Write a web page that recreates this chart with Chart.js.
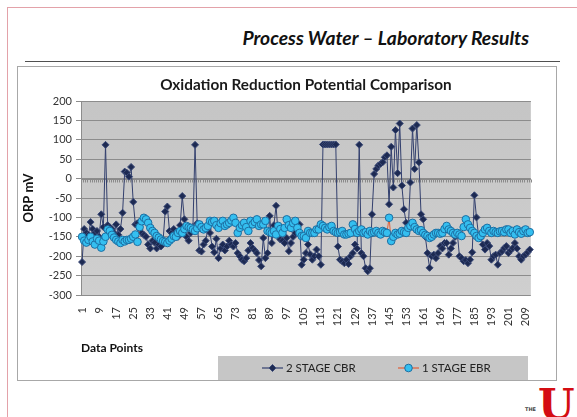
<!DOCTYPE html>
<html><head><meta charset="utf-8">
<script src="https://cdn.jsdelivr.net/npm/chart.js@4"></script>
<style>
html,body{margin:0;padding:0;background:#fff;width:577px;height:417px;overflow:hidden;font-family:Lato,"Open Sans",sans-serif}
#frameTop{position:absolute;left:7px;top:7px;width:570px;height:1px;background:#e3a2a9}
#frameLeft{position:absolute;left:7px;top:7px;width:1px;height:410px;background:#e3a2a9}
#title{position:absolute;right:48px;top:26px;font:italic 700 19.3px Lato,sans-serif;color:#111;white-space:nowrap}
#rule{position:absolute;left:25px;top:61px;width:535px;height:1px;background:#505050}
#box{position:absolute;left:17px;top:66px;width:540px;height:315px;border:1px solid #a8a8a8;box-sizing:border-box;background:#fff}
#chart{position:absolute;left:17px;top:66px}
#logo{position:absolute;left:520px;top:383px;width:57px;height:34px;overflow:hidden}
#logo .the{position:absolute;left:5px;top:23px;font:700 5px "DejaVu Sans",sans-serif;color:#444}
#logo .u{position:absolute;left:18px;top:1px;font:900 42px "DejaVu Serif",serif;color:#d40d12;line-height:1}
</style></head>
<body>
<div id="frameTop"></div><div id="frameLeft"></div>
<div id="title">Process Water – Laboratory Results</div>
<div id="rule"></div>
<div id="box"></div>
<canvas id="chart" width="538" height="315"></canvas>
<div id="logo"><span class="the">THE</span><span class="u">U</span></div>
<script>
const chartTitle = 'Oxidation Reduction Potential Comparison';
const seriesNames = ['2 STAGE CBR', '1 STAGE EBR'];
const xTickLabels = ['1','9','17','25','33','41','49','57','65','73','81','89','97','105','113','121','129','137','145','153','161','169','177','185','193','201','209'];
const yMin = -300, yMax = 200, yStep = 50;

const cbrValues = [
 -215,-130,-140,-145,-112,-130,-140,-135,-150,-92,
 -125,87,-120,-125,-130,-140,-118,-145,-130,-88,
 18,15,5,30,-60,-118,-115,-130,-140,-145,
 -150,-170,-180,-160,-165,-180,-170,-175,-160,-85,
 -72,-135,-140,-130,-140,-150,-120,-45,-105,-150,
 -160,-140,-125,87,-115,-185,-188,-170,-160,-130,
 -140,-175,-190,-155,-205,-180,-170,-185,-175,-160,
 -170,-175,-166,-192,-200,-209,-213,-205,-185,-166,
 -179,-185,-192,-210,-226,-153,-205,-192,-96,-166,
 -120,-70,-148,-157,-160,-166,-153,-187,-166,-150,
 -140,-130,-118,-222,-209,-192,-170,-195,-209,-200,
 -183,-200,-222,88,88,88,88,88,88,88,
 -175,-209,-213,-218,-209,-220,-200,-192,-170,-180,
 87,-192,-200,-231,-239,-231,-92,12,25,34,
 38,42,55,60,-66,82,-23,125,14,142,
 -18,-79,-114,-131,-10,129,25,138,42,-92,
 -105,-150,-192,-230,-200,-196,-205,-192,-174,-180,
 -166,-166,-196,-180,-166,-150,-140,-200,-205,-213,
 -210,-218,-209,-190,-43,-100,-148,-153,-170,-183,
 -166,-174,-209,-200,-196,-222,-192,-187,-179,-174,
 -192,-185,-179,-166,-180,-200,-209,-200,-196,-190,-183
];
const ebrValues = [
 -150,-160,-165,-158,-150,-162,-170,-155,-160,-178,
 -162,-150,-131,-135,-145,-152,-158,-162,-166,-158,
 -162,-158,-158,-155,-150,-144,-163,-125,-110,-101,
 -105,-114,-127,-135,-140,-148,-152,-157,-161,-163,
 -166,-160,-155,-148,-150,-140,-135,-140,-130,-122,
 -125,-127,-131,-135,-128,-118,-125,-131,-127,-122,
 -109,-112,-109,-120,-127,-115,-109,-122,-118,-114,
 -108,-101,-114,-140,-127,-120,-114,-125,-135,-109,
 -118,-112,-105,-122,-118,-118,-109,-135,-138,-140,
 -135,-144,-122,-130,-140,-127,-105,-120,-127,-115,
 -109,-127,-140,-148,-148,-153,-135,-140,-140,-140,
 -131,-131,-118,-122,-127,-131,-125,-122,-135,-138,
 -140,-138,-135,-144,-144,-142,-140,-118,-130,-140,
 -135,-131,-140,-138,-144,-135,-140,-138,-135,-140,
 -144,-135,-138,-140,-101,-161,-150,-140,-144,-142,
 -135,-138,-140,-127,-122,-114,-125,-131,-135,-133,
 -140,-145,-148,-153,-150,-144,-140,-140,-142,-140,
 -130,-122,-131,-135,-140,-144,-140,-144,-148,-125,
 -105,-118,-127,-135,-140,-148,-153,-148,-140,-131,
 -127,-135,-140,-135,-138,-140,-136,-135,-138,-131,
 -131,-140,-135,-144,-131,-138,-142,-135,-131,-140,-138
];
const categories = cbrValues.map((_, i) => String(i + 1));

const FONT = 'Lato, "Open Sans", sans-serif';

const plotBg = {
  id: 'plotBg',
  beforeDraw(chart) {
    const {ctx, chartArea: a} = chart;
    const g = ctx.createLinearGradient(0, a.top, 0, a.bottom);
    g.addColorStop(0, '#c5c5c5');
    g.addColorStop(1, '#cfcfcf');
    ctx.save();
    ctx.fillStyle = g;
    ctx.fillRect(a.left, a.top, a.right - a.left, a.bottom - a.top);
    ctx.restore();
  }
};

const zeroAxis = {
  id: 'zeroAxis',
  beforeDatasetsDraw(chart) {
    const {ctx, chartArea: a, scales} = chart;
    const y0 = Math.round(scales.y.getPixelForValue(0)) + 0.5;
    ctx.save();
    ctx.strokeStyle = '#8a8a8a';
    ctx.lineWidth = 1;
    ctx.beginPath();
    ctx.moveTo(a.left, y0); ctx.lineTo(a.right, y0);
    const n = categories.length;
    const w = (a.right - a.left) / n;
    for (let i = 0; i <= n; i++) {
      const x = Math.round(a.left + i * w) + 0.5;
      ctx.moveTo(x, y0); ctx.lineTo(x, y0 + 3);
    }
    ctx.stroke();
    ctx.restore();
  }
};

function drawMarker(ctx, style, x, y, r, fill, stroke) {
  ctx.beginPath();
  if (style === 'rectRot') {
    ctx.moveTo(x, y - r); ctx.lineTo(x + r, y); ctx.lineTo(x, y + r); ctx.lineTo(x - r, y); ctx.closePath();
  } else {
    ctx.arc(x, y, r, 0, Math.PI * 2);
  }
  ctx.fillStyle = fill; ctx.fill();
  ctx.strokeStyle = stroke; ctx.lineWidth = 1; ctx.stroke();
}

const titleLegend = {
  id: 'titleLegend',
  afterDraw(chart) {
    const {ctx, chartArea: a} = chart;
    ctx.save();
    ctx.fillStyle = '#1a1a1a';
    ctx.font = 'bold 15.3px ' + FONT;
    ctx.textAlign = 'center';
    ctx.textBaseline = 'middle';
    ctx.fillText(chartTitle, (a.left + a.right) / 2, 19);
    const lx = 201, ly = 290, lw = 310, lh = 24;
    ctx.fillStyle = '#c6c6c6';
    ctx.fillRect(lx, ly, lw, lh);
    const entryX = [245, 381];
    chart.data.datasets.forEach((ds, i) => {
      const cx = entryX[i], cy = ly + lh / 2;
      ctx.strokeStyle = ds.borderColor; ctx.lineWidth = 1.2;
      ctx.beginPath(); ctx.moveTo(cx, cy); ctx.lineTo(cx + 21, cy); ctx.stroke();
      drawMarker(ctx, ds.pointStyle, cx + 10.5, cy, ds.pointRadius, ds.pointBackgroundColor, ds.pointBorderColor);
      ctx.fillStyle = '#222';
      ctx.font = '11.5px ' + FONT;
      ctx.textAlign = 'left';
      ctx.fillText(ds.label, cx + 24, cy + 0.5);
    });
    ctx.restore();
  }
};

new Chart(document.getElementById('chart'), {
  type: 'line',
  data: {
    labels: categories,
    datasets: [
      {
        label: seriesNames[0], data: cbrValues, order: 1,
        borderColor: '#33406e', borderWidth: 1, tension: 0,
        pointStyle: 'rectRot', pointRadius: 3.5,
        pointBackgroundColor: '#1d2a52', pointBorderColor: '#3b4a78', pointBorderWidth: 1
      },
      {
        label: seriesNames[1], data: ebrValues, order: 0,
        borderColor: '#e0603a', borderWidth: 1, tension: 0,
        pointStyle: 'circle', pointRadius: 3.8,
        pointBackgroundColor: '#34bff0', pointBorderColor: '#1d6fa3', pointBorderWidth: 1
      }
    ]
  },
  options: {
    responsive: false,
    animation: false,
    events: [],
    layout: {padding: {top: 35, right: 8, left: 0, bottom: 26}},
    plugins: {legend: {display: false}, title: {display: false}, tooltip: {enabled: false}},
    scales: {
      x: {
        type: 'category', offset: true,
        grid: {display: false, drawTicks: false},
        border: {display: false},
        ticks: {
          autoSkip: false, maxRotation: 90, minRotation: 90, padding: 12,
          font: {size: 11, family: FONT}, color: '#333',
          callback: function (v) { const l = this.getLabelForValue(v); return xTickLabels.includes(l) ? l : ''; }
        },
        title: {display: true, text: 'Data Points', align: 'start', color: '#111',
                font: {size: 12, weight: 'bold', family: FONT}, padding: {top: 0, bottom: 0}},
        afterFit(s) { s.height = 60; }
      },
      y: {
        min: yMin, max: yMax,
        ticks: {stepSize: yStep, font: {size: 11, family: FONT}, color: '#333', padding: 4},
        grid: {color: '#8c8c8c', tickLength: 5},
        border: {color: '#8c8c8c'},
        title: {display: true, text: 'ORP mV', color: '#111',
                font: {size: 13, weight: 'bold', family: FONT}, padding: {top: 4, bottom: 0}},
        afterFit(s) { s.width = 64; }
      }
    }
  },
  plugins: [plotBg, zeroAxis, titleLegend]
});
</script>
</body></html>
